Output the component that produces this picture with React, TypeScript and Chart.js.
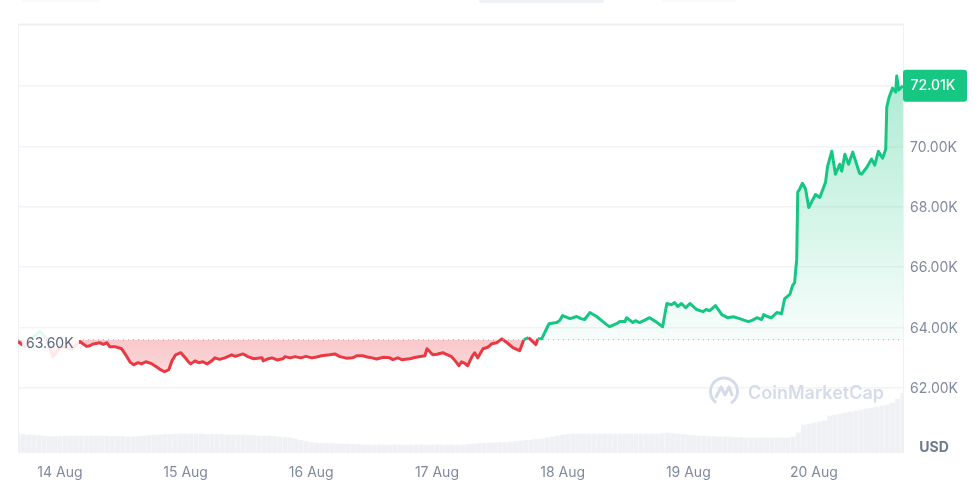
import React, { useEffect, useRef } from "react";
import { Chart, registerables } from "chart.js";

Chart.register(...registerables);

const baseline = 63.6;
const lastPrice = 72.01;
const dayLabels = ["14 Aug", "15 Aug", "16 Aug", "17 Aug", "18 Aug", "19 Aug", "20 Aug"];
const dayTicks = [0, 24, 48, 72, 96, 120, 144];
const priceTicks = [62, 64, 66, 68, 70, 72];

// hours since 14 Aug 00:00
const hours = [
  -8, -6.7, -5.3, -3.8, -2.7, -1.3, -0.4, 0.6, 2.3, 3.4,
  3.8, 4.6, 5.1, 5.7, 6.2, 6.7, 7.6, 8.3, 9, 9.5,
  10.5, 11.8, 12.8, 13.4, 14.1, 14.9, 15.6, 16.4, 17, 17.6,
  18.7, 19.3, 20, 20.8, 21.4, 22.1, 23.1, 24.1, 24.6, 25,
  25.8, 26.5, 27.3, 28.1, 29, 29.6, 30.5, 31.5, 32.8, 33.5,
  34.4, 35, 35.9, 37, 38.6, 38.8, 39.6, 40.5, 41.5, 42.6,
  43, 44, 44.9, 46, 47, 48.1, 49, 50, 51.5, 52.5,
  53.5, 54.7, 55.9, 56.7, 57.8, 58.7, 59.6, 60.5, 61.8, 63,
  63.6, 64.5, 65.3, 66.8, 68, 69.7, 70.1, 71.2, 72, 73.1,
  74.8, 75.5, 76.2, 76.7, 77.3, 77.9, 78.3, 78.7, 79.2, 79.8,
  80.8, 81.7, 82.5, 83.4, 84.4, 85.4, 86.5, 87.8, 88.6, 89.5,
  90.9, 91.3, 92, 93.4, 94.9, 95.5, 96, 97.4, 98.7, 99.5,
  100.2, 101.2, 102.5, 103.7, 104.4, 105, 106.3, 106.9, 107.9, 108.2,
  109.4, 109.9, 110.7, 111.7, 112.6, 113.8, 115.1, 115.9, 116.8, 117.4,
  118, 118.7, 119.5, 120.3, 121.6, 122.8, 123.4, 124.1, 125.2, 126.4,
  127.5, 128.6, 129.8, 130.6, 131.5, 132.3, 133.1, 134, 134.4, 135.2,
  135.9, 136.9, 137.8, 138.4, 139.4, 139.9, 140.3, 140.7, 140.9, 141.3,
  141.8, 142.4, 143, 143.6, 144.3, 145.1, 146.2, 146.6, 147.4, 148.1,
  148.9, 149.3, 149.9, 150.6, 151.4, 152.7, 153.1, 154.1, 155, 155.6,
  156.3, 157.1, 157.7, 157.9, 158.3, 159, 159.6, 159.8, 160.2, 161,
];

// price in thousands of USD
const prices = [
  63.54, 63.37, 63.67, 63.87, 63.67, 63.04, 63.27, 63.37, 63.3, 63.47,
  63.54, 63.44, 63.38, 63.4, 63.45, 63.47, 63.5, 63.45, 63.5, 63.37,
  63.37, 63.3, 63.04, 62.86, 62.77, 62.84, 62.8, 62.87, 62.84, 62.8,
  62.67, 62.6, 62.54, 62.61, 62.9, 63.1, 63.17, 62.97, 62.86, 62.8,
  62.9, 62.84, 62.87, 62.8, 62.9, 63, 62.95, 63, 63.1, 63.05,
  63.1, 63.13, 63.04, 62.97, 63, 62.9, 62.96, 63, 62.93, 62.97,
  63.04, 63, 63.04, 63, 63.05, 63, 63.03, 63.07, 63.1, 63.13,
  63.04, 62.99, 63, 63.07, 63.07, 63.03, 63, 62.96, 63.02, 63,
  62.94, 63, 62.94, 62.97, 63.02, 63.07, 63.3, 63.1, 63.12, 63.17,
  63.04, 62.9, 62.74, 62.87, 62.82, 62.74, 62.9, 63.04, 63.17, 63,
  63.3, 63.35, 63.47, 63.5, 63.63, 63.5, 63.34, 63.24, 63.6, 63.67,
  63.44, 63.63, 63.63, 64.13, 64.17, 64.25, 64.4, 64.3, 64.37, 64.3,
  64.27, 64.5, 64.37, 64.2, 64.1, 64.03, 64.13, 64.2, 64.2, 64.33,
  64.17, 64.23, 64.17, 64.25, 64.33, 64.2, 64.03, 64.8, 64.76, 64.83,
  64.7, 64.8, 64.66, 64.8, 64.6, 64.53, 64.6, 64.56, 64.73, 64.43,
  64.33, 64.36, 64.3, 64.25, 64.2, 64.25, 64.33, 64.27, 64.43, 64.36,
  64.33, 64.5, 64.46, 64.96, 65.1, 65.39, 65.49, 66.26, 68.48, 68.6,
  68.78, 68.58, 67.98, 68.18, 68.41, 68.31, 68.81, 69.34, 69.84, 69.08,
  69.41, 69.18, 69.74, 69.41, 69.81, 69.11, 69.08, 69.31, 69.58, 69.38,
  69.84, 69.61, 69.91, 71.3, 71.6, 71.93, 71.8, 72.33, 71.87, 72.01,
];

// one volume bar per hour from -8h, USD billions
const volumeStart = -8;
const volumes = [
  19, 18.5, 18, 18, 17.5, 17, 16.5, 16.5,
  16.5, 17, 17, 17, 17, 17, 17, 17, 17, 17, 16.5, 16.5,
  16.5, 16, 16, 16.5, 17, 17.5, 18, 18, 18.5, 18.5, 19, 19,
  19, 19, 19, 19, 18.5, 18.5, 18.5, 18.5, 18, 18, 18, 18,
  17.5, 17.5, 17, 17, 17, 16.5, 16, 15.5, 15, 14, 12.5, 11.5,
  10.5, 10, 9.5, 9.5, 9.5, 9, 9, 9, 8.5, 8.5, 8, 8,
  8, 8, 8, 8, 8, 8, 8, 8, 8, 8, 8, 8,
  8, 8, 8, 8, 8, 8, 8.5, 9, 9.5, 9.5, 10, 10,
  10.5, 10.5, 11, 11.5, 12, 12.5, 13, 13.5, 14, 15, 16, 17,
  18, 18.5, 19, 19, 19, 19, 19, 19, 19, 19, 19, 19,
  19, 19, 19, 19, 19, 19, 19, 19.5, 20, 19.5, 19, 18.5,
  18, 17.5, 17, 17, 16.5, 16.5, 16, 16, 16, 15.5, 15.5, 15,
  15, 15, 15, 15, 15, 15, 15, 15, 16, 20, 28, 29,
  30, 31, 32, 37, 38, 39, 40, 41, 42, 43, 44, 45, 46, 47, 48, 50, 54, 60,
];

const GREEN = "#16c784";
const RED = "#ea3943";
const LABEL = "#808a9d";
const FONT = "Inter, 'Noto Sans', sans-serif";

const overlay = {
  id: "overlay",
  beforeDraw(chart: any) {
    const { ctx, chartArea: a } = chart;
    ctx.save();
    ctx.strokeStyle = "#eff1f4";
    ctx.lineWidth = 1;
    ctx.beginPath();
    ctx.moveTo(a.left + 0.5, a.top);
    ctx.lineTo(a.left + 0.5, a.bottom);
    ctx.moveTo(a.right + 0.5, a.top);
    ctx.lineTo(a.right + 0.5, a.bottom);
    ctx.stroke();
    ctx.fillStyle = "#eeeff2";
    ctx.fillRect(a.left, a.top - 1.5, a.right - a.left + 1, 2);
    ctx.restore();
  },
  afterDatasetsDraw(chart: any) {
    const { ctx, chartArea: a, scales } = chart;
    const yBase = scales.y.getPixelForValue(baseline);
    const yLast = scales.y.getPixelForValue(lastPrice);
    ctx.save();

    // baseline label
    ctx.fillStyle = "rgba(255,255,255,0.88)";
    ctx.fillRect(22, yBase - 11, 57, 32);
    ctx.fillStyle = "#58667e";
    ctx.font = `400 14px ${FONT}`;
    ctx.textAlign = "left";
    ctx.textBaseline = "middle";
    ctx.fillText("63.60K", 26, yBase + 4);

    // last price badge
    ctx.fillStyle = GREEN;
    ctx.beginPath();
    ctx.roundRect(a.right, yLast - 16, 64, 32, 3);
    ctx.fill();
    ctx.fillStyle = "#ffffff";
    ctx.font = `500 14px ${FONT}`;
    ctx.textAlign = "center";
    ctx.fillText("72.01K", a.right + 30, yLast + 0.5);

    // currency label
    ctx.fillStyle = "#6e7a90";
    ctx.font = `700 14px ${FONT}`;
    ctx.fillText("USD", 934, 448);

    // watermark
    ctx.strokeStyle = "#d5dce9";
    ctx.fillStyle = "#d5dce9";
    ctx.lineWidth = 3;
    ctx.lineCap = "round";
    ctx.lineJoin = "round";
    ctx.beginPath();
    ctx.arc(724, 391.5, 13.5, Math.PI * 0.72, Math.PI * 0.3);
    ctx.stroke();
    ctx.beginPath();
    ctx.moveTo(716, 397);
    ctx.lineTo(721, 387);
    ctx.lineTo(725, 395);
    ctx.lineTo(729, 387);
    ctx.lineTo(732, 395);
    ctx.stroke();
    ctx.font = `600 18px ${FONT}`;
    ctx.textAlign = "left";
    ctx.fillText("CoinMarketCap", 748, 393.5);
    ctx.restore();
  },
};

export default function App() {
  const ref = useRef<HTMLCanvasElement>(null);

  useEffect(() => {
    document.body.style.margin = "0";
    document.body.style.background = "#ffffff";
    const canvas = ref.current!;
    const c2d = canvas.getContext("2d")!;

    const above = c2d.createLinearGradient(0, 70, 0, 340);
    above.addColorStop(0, "rgba(22,199,132,0.36)");
    above.addColorStop(1, "rgba(22,199,132,0.03)");
    const below = c2d.createLinearGradient(0, 340, 0, 372);
    below.addColorStop(0, "rgba(234,57,67,0.28)");
    below.addColorStop(1, "rgba(234,57,67,0.2)");

    const linePoints = hours.map((h, i) => ({ x: h, y: prices[i] }));
    const volPoints = volumes.map((v, i) => ({ x: volumeStart + i, y: v }));
    const basePoints = [
      { x: hours[0], y: baseline },
      { x: hours[hours.length - 1], y: baseline },
    ];

    const chart = new Chart(canvas, {
      type: "line",
      data: {
        datasets: [
          {
            type: "line",
            data: basePoints,
            borderColor: "#a6b0c3",
            borderWidth: 1,
            borderDash: [1, 4],
            pointRadius: 0,
            order: 0,
            yAxisID: "y",
          },
          {
            type: "line",
            data: linePoints,
            borderWidth: 3,
            borderColor: RED,
            borderJoinStyle: "round",
            pointRadius: 0,
            tension: 0,
            fill: { value: baseline, above, below },
            segment: {
              borderColor: (c: any) =>
                c.p0.parsed.y >= baseline && c.p1.parsed.y >= baseline ? GREEN : RED,
            },
            order: 1,
            yAxisID: "y",
          },
          {
            type: "bar",
            data: volPoints,
            backgroundColor: "#eff1f5",
            barThickness: 4.4,
            order: 3,
            yAxisID: "yVol",
          },
        ],
      } as any,
      options: {
        responsive: false,
        animation: false,
        parsing: { xAxisKey: "x", yAxisKey: "y" } as any,
        layout: { padding: { left: 18, top: 25, right: 0, bottom: 0 } },
        plugins: { legend: { display: false }, tooltip: { enabled: false } },
        scales: {
          x: {
            type: "linear",
            min: -8,
            max: 161,
            offset: false,
            grid: { display: false },
            border: { display: false },
            afterBuildTicks: (s: any) => {
              s.ticks = dayTicks.map((value) => ({ value }));
            },
            afterFit: (s: any) => {
              s.height = 31;
            },
            ticks: {
              autoSkip: false,
              maxRotation: 0,
              padding: 3,
              color: LABEL,
              font: { family: FONT, size: 14 },
              callback: (v: any) => dayLabels[dayTicks.indexOf(Number(v))] ?? "",
            },
          },
          y: {
            position: "right",
            min: 59.85,
            max: 74.02,
            grid: { color: "#f1f3f6", drawTicks: false, lineWidth: 1.5 },
            border: { display: false },
            afterBuildTicks: (s: any) => {
              s.ticks = priceTicks.map((value) => ({ value }));
            },
            afterFit: (s: any) => {
              s.width = 77;
            },
            ticks: {
              padding: 7,
              labelOffset: 1,
              color: LABEL,
              font: { family: FONT, size: 14 },
              callback: (v: any) => (Number(v) === 72 ? "" : `${Number(v).toFixed(2)}K`),
            },
          },
          yVol: {
            display: false,
            min: 0,
            max: 428,
          },
        },
      } as any,
      plugins: [overlay],
    });
    return () => chart.destroy();
  }, []);

  return (
    <div style={{ position: "absolute", left: 0, top: 0, width: 980, height: 484, overflow: "hidden", background: "#fff" }}>
      <div style={{ position: "absolute", left: 479, top: 0, width: 125, height: 3, background: "#eff2f5", borderRadius: "0 0 6px 6px" }} />
      <div style={{ position: "absolute", left: 22, top: 0, width: 78, height: 2, background: "#f9fafb" }} />
      <div style={{ position: "absolute", left: 662, top: 0, width: 74, height: 2, background: "#f9fafb" }} />
      <canvas ref={ref} width={980} height={484} style={{ position: "absolute", left: 0, top: 0, display: "block" }} />
    </div>
  );
}
